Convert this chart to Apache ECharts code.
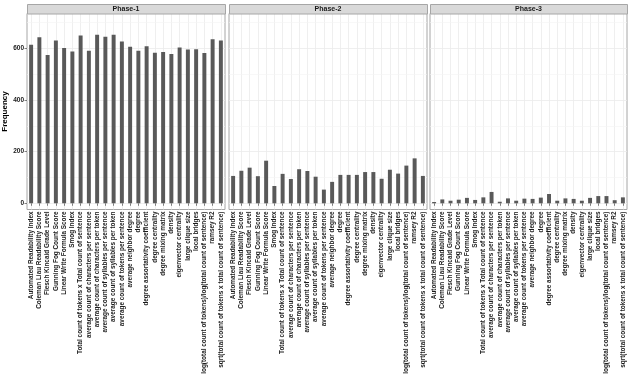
<!DOCTYPE html>
<html><head><meta charset="utf-8">
<script src="https://cdn.jsdelivr.net/npm/echarts@6/dist/echarts.min.js"></script>
<style>html,body{margin:0;padding:0;background:#fff}#c{width:632px;height:380px}</style>
</head><body><div id="c"></div><script>
const categories = [
  'Automated Readability Index',
  'Coleman Liau Readability Score',
  'Flesch Kincaid Grade Level',
  'Gunning Fog Count Score',
  'Linear Write Formula Score',
  'Smog Index',
  'Total count of tokens x Total count of sentence',
  'average count of characters per sentence',
  'average count of characters per token',
  'average count of syllables per sentence',
  'average count of syllables per token',
  'average count of tokens per sentence',
  'average neighbor degree',
  'degree',
  'degree assortativity coefficient',
  'degree centrality',
  'degree mixing matrix',
  'density',
  'eigenvector centrality',
  'large clique size',
  'local bridges',
  'log(total count of tokens)/log(total count of sentence)',
  'ramsey R2',
  'sqrt(total count of tokens x total count of sentence)'
];
const phaseNames = ['Phase-1', 'Phase-2', 'Phase-3'];
const phase1Values = [614, 643, 574, 630, 601, 588, 650, 591, 653, 645, 653, 627, 606, 591, 608, 583, 586, 578, 603, 596, 597, 582, 635, 630];
const phase2Values = [106, 126, 138, 105, 165, 67, 114, 94, 132, 125, 103, 53, 83, 110, 110, 110, 121, 121, 95, 130, 115, 146, 174, 106];
const phase3Values = [5, 15, 10, 14, 21, 13, 23, 44, 6, 19, 10, 18, 17, 22, 36, 10, 19, 17, 10, 21, 28, 28, 12, 23];
const yTickValues = [0, 200, 400, 600];
const yMinorValues = [100, 300, 500, 700];
const yTitle = 'Frequency';

const allValues = [phase1Values, phase2Values, phase3Values];
const panelLefts = [27, 229, 430];
const panelWidths = [198, 198, 197];
const panelTop = 13.5, panelBottom = 170.5;
const stripTop = 4, stripH = 9.5;
const FONT = '"Liberation Sans", Arial, sans-serif';

const grids = [], xAxes = [], yAxes = [], series = [], graphics = [];
phaseNames.forEach((name, i) => {
  grids.push({
    left: panelLefts[i], width: panelWidths[i], top: panelTop, bottom: panelBottom,
    show: true, backgroundColor: '#fff', borderColor: '#a6a6a6', borderWidth: 1, z: 0
  });
  xAxes.push({
    type: 'category', gridIndex: i, data: categories,
    axisLine: { show: false },
    axisTick: { show: true, alignWithLabel: true, length: 2.5, lineStyle: { color: '#333', width: 0.6 } },
    splitLine: { show: true, alignWithLabel: true, lineStyle: { color: '#ebebeb', width: 0.8 } },
    axisLabel: {
      interval: 0, rotate: 90, margin: 2, fontSize: 6.4, fontWeight: 'bold',
      fontFamily: FONT, color: '#1a1a1a'
    }
  });
  yAxes.push({
    type: 'value', gridIndex: i, min: -24, max: 735,
    name: i === 0 ? yTitle : '', nameLocation: 'middle', nameGap: 13,
    nameTextStyle: { fontSize: 8, fontWeight: 'bold', fontFamily: FONT, color: '#000' },
    axisLine: { show: false },
    axisTick: { show: i === 0, length: 2.5, customValues: yTickValues, lineStyle: { color: '#333', width: 0.6 } },
    axisLabel: { show: i === 0, customValues: yTickValues, margin: 3, fontSize: 6.5, fontWeight: 'bold', fontFamily: FONT, color: '#1a1a1a' },
    splitLine: { show: true, lineStyle: { color: '#ebebeb', width: 0.8 } }
  });
  series.push({
    type: 'bar', xAxisIndex: i, yAxisIndex: i, data: allValues[i],
    barWidth: '48%', itemStyle: { color: '#595959' }, animation: false, z: 3,
    markLine: {
      silent: true, symbol: 'none', animation: false, z: 1,
      label: { show: false },
      lineStyle: { color: '#f4f4f4', type: 'solid', width: 0.6 },
      data: yMinorValues.map(v => ({ yAxis: v }))
    }
  });
  graphics.push({
    type: 'rect', left: panelLefts[i], top: stripTop,
    shape: { width: panelWidths[i], height: stripH },
    style: { fill: '#d9d9d9', stroke: '#a6a6a6', lineWidth: 1 }, z: 10
  });
  graphics.push({
    type: 'text', x: panelLefts[i] + panelWidths[i] / 2, y: stripTop + stripH / 2,
    style: { text: name, fill: '#1a1a1a', font: 'bold 7px ' + FONT, textAlign: 'center', textVerticalAlign: 'middle' }, z: 11
  });
});

const chart = echarts.init(document.getElementById('c'), null, { renderer: 'canvas' });
chart.setOption({
  animation: false,
  backgroundColor: '#fff',
  grid: grids, xAxis: xAxes, yAxis: yAxes, series: series,
  graphic: graphics
});
</script></body></html>
